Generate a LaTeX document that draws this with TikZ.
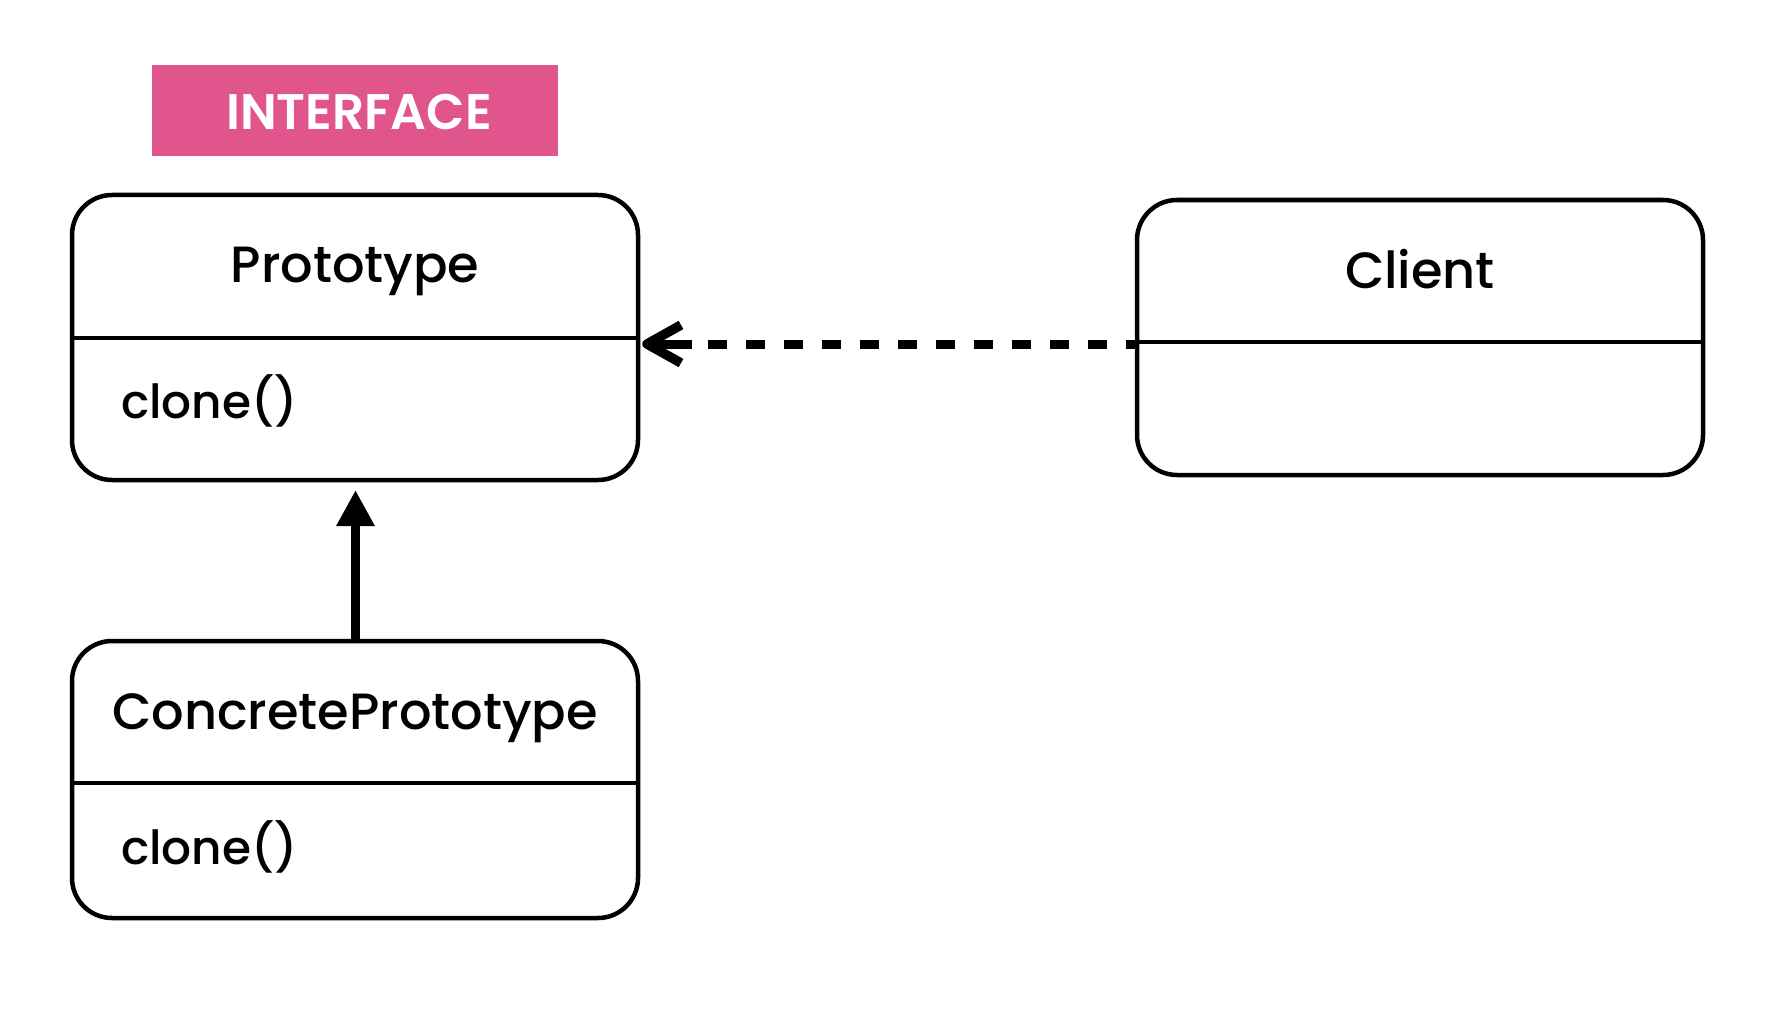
\documentclass[tikz,border=0pt]{standalone}
\usepackage{fontspec}
\IfFontExistsTF{Poppins Medium}{\setmainfont{Poppins Medium}}{\setmainfont{Poppins}}
\IfFontExistsTF{Poppins SemiBold}{\newfontfamily\tagfont{Poppins SemiBold}}{\newfontfamily\tagfont{Poppins}}
\usetikzlibrary{arrows.meta}
\definecolor{tagpink}{HTML}{E0558C}
\tikzset{
  classbox/.style={draw=black, line width=4.5pt, rounded corners=40pt,
    minimum width=566pt, inner sep=0pt},
  divider/.style={line width=4.5pt},
  classname/.style={font=\fontsize{51}{54}\selectfont, anchor=base, inner sep=0pt},
  member/.style={font=\fontsize{47}{50}\selectfont, anchor=base west, inner sep=0pt},
  inherit/.style={line width=9pt, -{Triangle[length=36pt, width=36pt]}},
  uses/.style={line width=9pt, dash pattern=on 19pt off 19pt, dash phase=10pt},
  openhead/.style={line width=9.5pt, line cap=butt, line join=round},
}
\begin{document}
\begin{tikzpicture}[x=1pt, y=-1pt]
  \useasboundingbox[fill=white] (0,0) rectangle (1771,1011);

  % interface tag
  \node[fill=tagpink, minimum width=406pt, minimum height=91pt, inner sep=0pt]
    (tag) at (355,111) {};
  \node[font=\tagfont\fontsize{50}{52}\selectfont, text=white, anchor=base, inner sep=0pt]
    (tagtext) at (359,130) {INTERFACE};

  % Prototype
  \node[classbox, minimum height=285pt] (proto) at (355,337.5) {};
  \coordinate (protoW) at (72,338);
  \coordinate (protoE) at (638,338);
  \draw[divider] (protoW) -- (protoE);
  \node[classname] (protoname) at (355,282) {Prototype};
  \node[member] (protoclone) at (121,418) {clone()};

  % Client
  \node[classbox, minimum height=275pt] (client) at (1420,337.5) {};
  \coordinate (clientW) at (1137,342);
  \coordinate (clientE) at (1703,342);
  \draw[divider] (clientW) -- (clientE);
  \node[classname] (clientname) at (1420,288) {Client};

  % ConcretePrototype
  \node[classbox, minimum height=277pt] (concrete) at (355,779.5) {};
  \coordinate (concW) at (72,783);
  \coordinate (concE) at (638,783);
  \draw[divider] (concW) -- (concE);
  \node[classname] (concname) at (355,729) {ConcretePrototype};
  \node[member] (concclone) at (121,864) {clone()};

  % dependency: dashed line with an open arrow head
  \coordinate (usesStart) at (client.west |- 0,344);
  \coordinate (usesEnd) at (647,344);
  \draw[uses] (usesStart) -- (usesEnd);
  \draw[openhead] (usesEnd) ++(34,-19) -- (usesEnd) -- ++(34,19);
  \draw[line width=9pt] (usesEnd) -- ++(45,0);

  % generalization
  \coordinate (inhEnd) at (355.5,490);
  \draw[inherit] (concrete.north -| inhEnd) -- (inhEnd);
\end{tikzpicture}
\end{document}
